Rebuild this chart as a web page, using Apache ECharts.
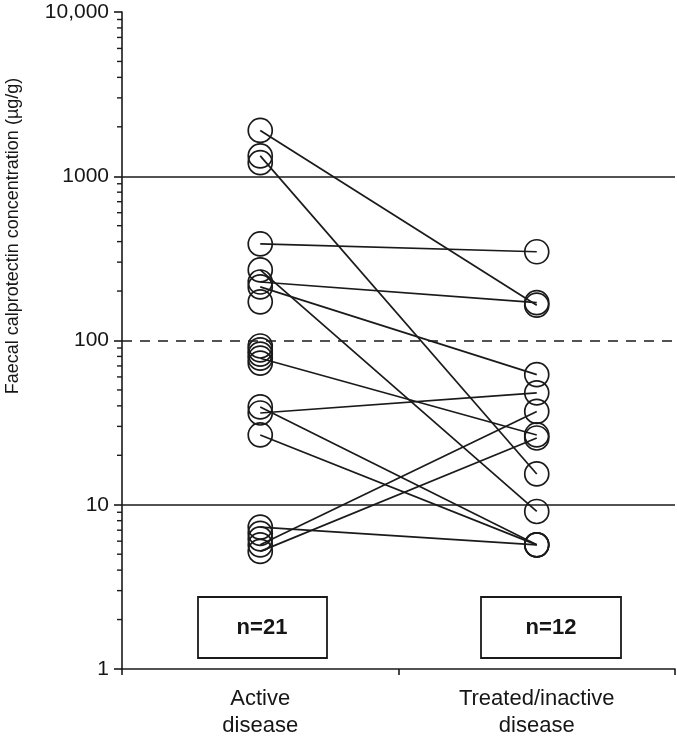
<!DOCTYPE html>
<html><head><meta charset="utf-8">
<script src="https://cdn.jsdelivr.net/npm/echarts@6/dist/echarts.min.js"></script>
<style>html,body{margin:0;padding:0;background:#fff}#c{width:677px;height:741px}</style>
</head><body><div id="c"></div>
<script>
const categories = ['Active\ndisease', 'Treated/inactive\ndisease'];
const pairedActive  = [1900, 1330, 387, 269, 227, 212, 78, 39.4, 36.2, 26.6, 7.3, 5.7, 5.2];
const pairedTreated = [164, 15.4, 347, 9.1, 170, 62, 26.6, 5.7, 48, 5.7, 5.7, 37, 25.5];
const unpairedActive = [1210, 172, 92.6, 87.6, 82.7, 72.9, 6.7, 6.2];
const yTickValues = [1, 10, 100, 1000, 10000];
const yTickLabels = ['1', '10', '100', '1000', '10,000'];
const minorTickValues = [2,3,4,5,6,7,8,9, 20,30,40,50,60,70,80,90, 200,300,400,500,600,700,800,900, 2000,3000,4000,5000,6000,7000,8000,9000];
const solidRefLines = [10, 1000];
const dashedRefLines = [100];
const countLabels = ['n=21', 'n=12'];
const yAxisTitle = 'Faecal calprotectin concentration (µg/g)';

const INK = '#1a1a1a';
const TXT = '#161616';
const FONT = '"Liberation Sans", Arial, sans-serif';
const chart = echarts.init(document.getElementById('c'), null, {renderer: 'canvas'});

const circleStyle = {color: 'rgba(0,0,0,0)', borderColor: INK, borderWidth: 1.7, opacity: 1};
const series = [];
pairedActive.forEach((a, i) => {
  series.push({
    type: 'line', data: [a, pairedTreated[i]], symbol: 'circle', symbolSize: 24,
    itemStyle: circleStyle, lineStyle: {color: INK, width: 1.7},
    silent: true, animation: false, z: 3
  });
});
series.push({
  type: 'scatter', data: unpairedActive.map(v => [0, v]), symbol: 'circle', symbolSize: 24,
  itemStyle: circleStyle, silent: true, animation: false, z: 3
});
series.push({
  type: 'scatter', data: [], silent: true, animation: false,
  markLine: {
    symbol: 'none', silent: true, animation: false, label: {show: false},
    lineStyle: {color: INK, width: 1.6, type: 'solid'},
    data: solidRefLines.map(v => ({yAxis: v}))
  }
});
series.push({
  type: 'scatter', data: [], silent: true, animation: false,
  markLine: {
    symbol: 'none', silent: true, animation: false, label: {show: false},
    lineStyle: {color: INK, width: 1.6, type: [10, 8]},
    data: dashedRefLines.map(v => ({yAxis: v}))
  }
});
series.push({
  type: 'scatter', xAxisIndex: 1, data: minorTickValues.map(v => [0, v]),
  symbol: 'rect', symbolSize: [5, 1.4], symbolOffset: [-2.5, 0],
  itemStyle: {color: INK, opacity: 1}, silent: true, animation: false, clip: false, z: 5
});

chart.setOption({
  animation: false,
  backgroundColor: '#fff',
  grid: {left: 122, right: 2, top: 12, bottom: 72},
  xAxis: [{
    type: 'category', data: categories, boundaryGap: true,
    axisLine: {show: true, lineStyle: {color: INK, width: 1.6}},
    axisTick: {show: true, length: 6, lineStyle: {color: INK, width: 1.6}},
    axisLabel: {color: TXT, fontFamily: FONT, fontSize: 22, lineHeight: 27, margin: 16},
    splitLine: {show: false}
  }, {
    type: 'value', min: 0, max: 1, show: false
  }],
  yAxis: {
    type: 'log', logBase: 10, min: 1, max: 10000,
    axisLine: {show: true, lineStyle: {color: INK, width: 1.6}},
    axisTick: {show: true, length: 8, lineStyle: {color: INK, width: 1.6}},
    axisLabel: {
      color: TXT, fontFamily: FONT, fontSize: 21, margin: 13,
      formatter: v => { const k = yTickValues.findIndex(t => Math.abs(t - v) < 1e-6 * t); return k >= 0 ? yTickLabels[k] : ''; }
    },
    splitLine: {show: false},
    minorTick: {show: false}
  },
  graphic: [
    {type: 'text', x: 13, y: 236, rotation: Math.PI / 2,
     style: {text: yAxisTitle, font: '18px ' + FONT, fill: TXT, align: 'center', verticalAlign: 'middle'}},
    {type: 'rect', shape: {x: 198, y: 597, width: 129, height: 61}, style: {fill: '#fff', stroke: INK, lineWidth: 1.8}, z: 10},
    {type: 'text', x: 262, y: 628, z: 11, style: {text: countLabels[0], font: 'bold 22px ' + FONT, fill: TXT, align: 'center', verticalAlign: 'middle'}},
    {type: 'rect', shape: {x: 481, y: 597, width: 140, height: 61}, style: {fill: '#fff', stroke: INK, lineWidth: 1.8}, z: 10},
    {type: 'text', x: 551, y: 628, z: 11, style: {text: countLabels[1], font: 'bold 22px ' + FONT, fill: TXT, align: 'center', verticalAlign: 'middle'}}
  ],
  series: series
});
</script></body></html>
